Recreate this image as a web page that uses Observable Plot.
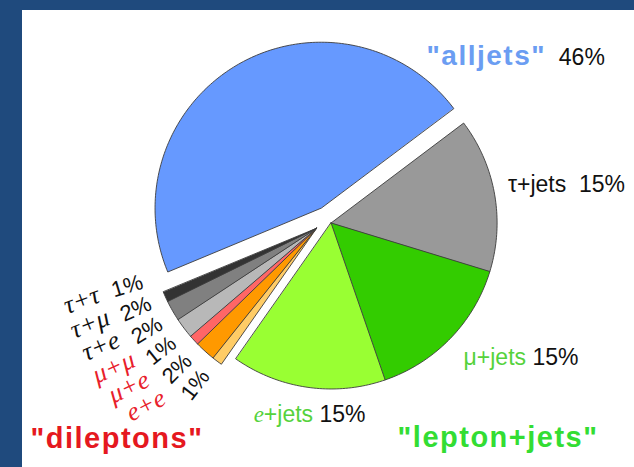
<!DOCTYPE html>
<html><head><meta charset="utf-8">
<script src="https://cdn.jsdelivr.net/npm/d3@7"></script>
<script src="https://cdn.jsdelivr.net/npm/@observablehq/plot@0.6"></script>
<style>
html,body{margin:0;padding:0;background:#1f4a7d;width:634px;height:467px;overflow:hidden;}
#frame{position:absolute;left:22px;top:10px;width:612px;height:457px;background:#fff;}
</style></head><body><div id="frame"></div>
<script>
// ---- data (clockwise order, starting at the τ+jets slice) ----
const slices   = ["τ+jets","μ+jets","e+jets","e+e","μ+e","μ+μ","τ+e","τ+μ","τ+τ","alljets"];
const percents = [15, 15, 15, 1, 2, 1, 2, 2, 1, 46];
const channels = ["lepton+jets","lepton+jets","lepton+jets","dileptons","dileptons","dileptons","dileptons","dileptons","dileptons","alljets"];
const groupTitles = ["\"alljets\"", "\"lepton+jets\"", "\"dileptons\""];

// ---- styles ----
const sliceFill = {
  "alljets":"#6699ff","τ+jets":"#999999","μ+jets":"#33cc00","e+jets":"#99ff33",
  "τ+τ":"#333333","τ+μ":"#808080","τ+e":"#b8b8b8","μ+μ":"#ff6666","μ+e":"#ff9900","e+e":"#ffcc66"
};
const dilNameColor = {"τ+τ":"#111","τ+μ":"#111","τ+e":"#111","μ+μ":"#e8202a","μ+e":"#e8202a","e+e":"#e8202a"};
const GREEN_TXT = "#55d23c", BLUE_TXT = "#6b9df2", BLACK = "#111";

// ---- layout ----
const W = 612, H = 457, X0 = 22, Y0 = 10;
const C = [327, 219], R = 166, START = 53;
const explode = {"lepton+jets": 5, "dileptons": 14, "alljets": 13};
const rad = d => d * Math.PI / 180;
const polar = (c, a, r) => [c[0] + r * Math.sin(rad(a)), c[1] - r * Math.cos(rad(a))];

const total = d3.sum(percents);
let acc = 0;
const rows = slices.map((name, i) => {
  const a0 = START + acc / total * 360; acc += percents[i];
  const a1 = START + acc / total * 360;
  return {name, value: percents[i], group: channels[i], a0, a1};
});
const groupSpan = d3.rollup(rows, v => ({a0: d3.min(v, d => d.a0), a1: d3.max(v, d => d.a1)}), d => d.group);
for (const [g, s] of groupSpan) { s.mid = (s.a0 + s.a1) / 2; s.c = polar(C, s.mid, explode[g]); }
rows.forEach(r => r.c = groupSpan.get(r.group).c);

const pts = rows.flatMap(r => {
  const n = Math.max(2, Math.ceil(r.a1 - r.a0));
  const arc = d3.range(n + 1).map(k => polar(r.c, r.a0 + (r.a1 - r.a0) * k / n, R));
  return [r.c, ...arc].map(([x, y]) => ({name: r.name, fill: sliceFill[r.name], x, y}));
});

// outer labels
const outerLayout = {
  "τ+jets": {da: -2.3, r: 181, anchor: "start"},
  "μ+jets": {da: 1.5, r: 189, anchor: "start"},
  "e+jets": {da: -1.6, r: 193, anchor: "middle"},
  "alljets": {fromEnd: -18, r: 184, anchor: "start"}
};
const outer = rows.filter(r => outerLayout[r.name]).map(r => {
  const L = outerLayout[r.name];
  const a = L.fromEnd !== undefined ? r.a1 + L.fromEnd : (r.a0 + r.a1) / 2 + L.da;
  const [x, y] = polar(r.c, a, L.r);
  return {key: r.name, x, y, anchor: L.anchor, value: r.value};
});
const pctOf = v => `${v}%`;
const spanSpec = {};
for (const o of outer) {
  const p = pctOf(o.value);
  if (o.key === "τ+jets") spanSpec[o.key] = [{t: "τ+jets", fill: BLACK}, {t: "\u00a0\u00a0" + p, fill: BLACK}];
  if (o.key === "μ+jets") spanSpec[o.key] = [{t: "μ+jets", fill: GREEN_TXT}, {t: "\u00a0" + p, fill: BLACK}];
  if (o.key === "e+jets") spanSpec[o.key] = [{t: "e", fill: GREEN_TXT, italic: true, serif: true}, {t: "+jets", fill: GREEN_TXT}, {t: "\u00a0" + p, fill: BLACK}];
  if (o.key === "alljets") spanSpec[o.key] = [{t: groupTitles[0], fill: BLUE_TXT, bold: true, size: 28, ls: 1.5}, {t: "\u00a0\u00a0" + p, fill: BLACK}];
}

// dilepton labels
const dil = rows.filter(r => r.group === "dileptons");
const gd = groupSpan.get("dileptons");
const nD = dil.length;
const pctRows = dil.map((r, i) => {
  const a = (gd.a0 + 2.7) + ((gd.a1 + 5.6) - (gd.a0 + 2.7)) * i / (nD - 1);
  const [x, y] = polar(gd.c, a, 198);
  return {x, y, text: pctOf(r.value), rotate: a - 270};
});
const nameRows = dil.map((r, i) => {
  const a = (gd.a0 + 9) + ((gd.a1 + 5.6) - (gd.a0 + 9)) * i / (nD - 1);
  const [x, y] = polar(gd.c, a, 246);
  return {x, y, text: r.name, rotate: -27 + 7 * i / (nD - 1), fill: dilNameColor[r.name]};
});

const SANS = "'Liberation Sans', Arial, Helvetica, sans-serif";
const SERIF = "'Liberation Serif', 'Times New Roman', serif";

const plot = Plot.plot({
  width: W, height: H, margin: 0,
  x: {domain: [X0, X0 + W], range: [0, W], axis: null},
  y: {domain: [Y0, Y0 + H], range: [0, H], axis: null},
  color: {type: "identity"},
  style: {background: "#fff", fontFamily: SANS},
  marks: [
    Plot.line(pts, {x: "x", y: "y", z: "name", fill: "fill", stroke: "#3c3c3c", strokeWidth: 0.9, strokeLinejoin: "round", curve: "linear-closed"}),
    Plot.text(outer.filter(d => d.anchor === "start"), {x: "x", y: "y", text: "key", textAnchor: "start", fontSize: 23, fill: BLACK}),
    Plot.text(outer.filter(d => d.anchor === "middle"), {x: "x", y: "y", text: "key", textAnchor: "middle", fontSize: 23, fill: BLACK}),
    Plot.text(pctRows, {x: "x", y: "y", text: "text", rotate: "rotate", fontSize: 22, fill: BLACK}),
    Plot.text(nameRows, {x: "x", y: "y", text: "text", rotate: "rotate", fill: "fill", fontSize: 26, fontStyle: "italic", fontFamily: SERIF}),
    Plot.text([groupTitles[2]], {frameAnchor: "bottom-left", textAnchor: "start", lineAnchor: "bottom", dx: 8, dy: -20, fontSize: 29, fontWeight: "bold", fill: "#e51820"}),
    Plot.text([groupTitles[1]], {frameAnchor: "bottom-right", textAnchor: "end", lineAnchor: "bottom", dx: -36, dy: -21, fontSize: 29, fontWeight: "bold", fill: "#33dd33"})
  ]
});

// letter-spacing for the bold group titles, and two-colour labels
plot.querySelectorAll("text").forEach(el => {
  const t = el.textContent;
  if (t === groupTitles[1] || t === groupTitles[2]) el.setAttribute("letter-spacing", "1.5");
  const spec = spanSpec[t];
  if (!spec) return;
  el.textContent = "";
  for (const s of spec) {
    const ts = document.createElementNS("http://www.w3.org/2000/svg", "tspan");
    ts.textContent = s.t;
    ts.setAttribute("fill", s.fill);
    if (s.bold) ts.setAttribute("font-weight", "bold");
    if (s.size) ts.setAttribute("font-size", s.size);
    if (s.ls) ts.setAttribute("letter-spacing", s.ls);
    if (s.italic) ts.setAttribute("font-style", "italic");
    if (s.serif) ts.setAttribute("font-family", SERIF);
    el.appendChild(ts);
  }
});
document.getElementById("frame").appendChild(plot);
</script>
</body></html>
